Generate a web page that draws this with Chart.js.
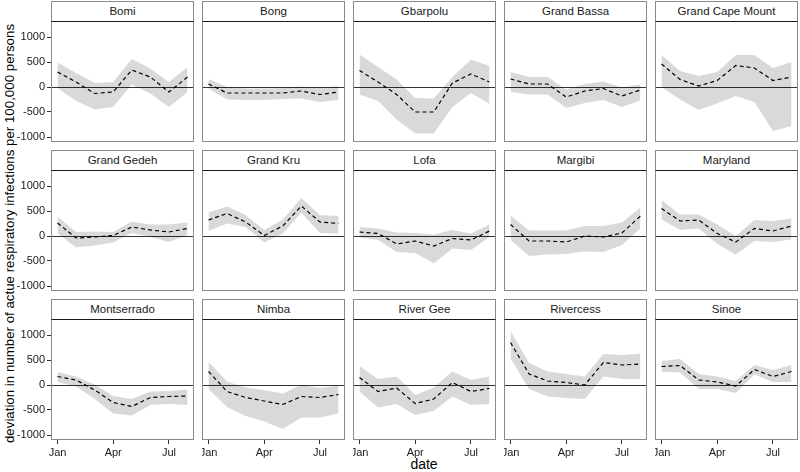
<!DOCTYPE html>
<html>
<head>
<script src="https://cdn.jsdelivr.net/npm/chart.js"></script>
<style>
  body { margin: 0; background: #fff; font-family: "Liberation Sans", Arial, sans-serif; }
  #wrap { position: relative; width: 800px; height: 472px; overflow: hidden; }
  #wrap canvas { position: absolute; }
  .strip {
    position: absolute; box-sizing: border-box; height: 21px; width: 143px;
    border: 1px solid #8a8a8a; border-bottom: 1px solid #1a1a1a; background: #fff;
    font-size: 11.5px; color: #1a1a1a; text-align: center; line-height: 19px;
  }
  .ytitle {
    position: absolute; left: 9px; top: 226px; width: 440px; margin-left: -220px;
    transform: rotate(-90deg); text-align: center; font-size: 13.3px; color: #000; white-space: nowrap;
  }
  .xtitle { position: absolute; left: 374px; width: 100px; top: 456px; text-align: center; font-size: 14px; color: #000; }
</style>
</head>
<body>
<div id="wrap">
  <div class="ytitle">deviation in number of actue respiratory infections per 100,000 persons</div>
  <div class="xtitle">date</div>
</div>
<script>
// facet names, in panel order
const counties = ['Bomi', 'Bong', 'Gbarpolu', 'Grand Bassa', 'Grand Cape Mount',
  'Grand Gedeh', 'Grand Kru', 'Lofa', 'Margibi', 'Maryland',
  'Montserrado', 'Nimba', 'River Gee', 'Rivercess', 'Sinoe'];

const monthLabels = ['Jan', 'Feb', 'Mar', 'Apr', 'May', 'Jun', 'Jul', 'Aug'];
const xTickIdx = [0, 3, 6];
const yTicks = [-1000, -500, 0, 500, 1000];

// dashed line: estimated deviation
const meanSeries = [
  [300, 100, -130, -100, 340, 200, -100, 200],
  [60, -120, -120, -120, -120, -80, -150, -100],
  [330, 100, -150, -500, -500, 80, 260, 100],
  [160, 60, 60, -200, -80, -30, -180, -60],
  [460, 150, 20, 130, 430, 380, 130, 200],
  [260, -40, -20, 10, 180, 120, 80, 150],
  [320, 450, 280, 10, 200, 600, 280, 250],
  [80, 50, -160, -100, -200, -50, -80, 100],
  [230, -100, -100, -120, 0, -20, 60, 400],
  [550, 300, 320, 50, -120, 150, 100, 200],
  [170, 100, -100, -350, -430, -250, -230, -220],
  [270, -130, -250, -320, -390, -230, -250, -190],
  [150, -130, -60, -370, -280, 50, -130, -70],
  [850, 220, 80, 50, 0, 450, 400, 420],
  [370, 390, 100, 60, -20, 310, 170, 270]
];

// grey band: lower bound
const lowerSeries = [
  [-20, -280, -450, -400, 50, -130, -400, -100],
  [-30, -250, -260, -260, -240, -230, -300, -260],
  [-150, -280, -650, -930, -930, -400, -120, -340],
  [-100, -150, -150, -420, -320, -260, -400, -270],
  [0, -250, -460, -330, -180, -300, -880, -780],
  [50, -230, -190, -130, 60, -20, -120, 20],
  [100, 250, 180, -130, 50, 470, 60, 50],
  [-30, -80, -320, -340, -550, -250, -280, -20],
  [-80, -400, -370, -360, -310, -320, -180, 150],
  [330, 120, 150, -160, -370, -100, -120, -70],
  [60, -30, -280, -570, -610, -400, -380, -400],
  [-80, -440, -620, -730, -880, -650, -650, -570],
  [-130, -450, -380, -600, -520, -230, -400, -380],
  [530, -80, -230, -260, -280, 170, 120, 120],
  [270, 250, -80, -80, -160, 210, 60, 60]
];

// grey band: upper bound
const upperSeries = [
  [490, 280, 80, 100, 560, 370, 100, 400],
  [160, 0, -30, -30, -20, 10, -20, 20],
  [650, 400, 150, -220, -230, 200, 550, 420],
  [300, 200, 200, -50, 60, 110, -10, 50],
  [640, 320, 220, 300, 640, 640, 380, 500],
  [390, 80, 90, 80, 290, 230, 230, 270],
  [470, 590, 420, 120, 330, 760, 420, 400],
  [180, 150, 70, 60, 30, 120, 50, 230],
  [410, 110, 110, 110, 200, 200, 270, 570],
  [720, 430, 430, 230, 0, 320, 300, 350],
  [260, 170, 10, -220, -280, -130, -120, -90],
  [460, 70, -50, -100, -170, 0, -60, -10],
  [380, 120, 170, -200, -50, 270, 100, 170],
  [1080, 440, 270, 220, 170, 620, 600, 630],
  [480, 520, 220, 170, 80, 400, 300, 400]
];

const colLeft = [51, 202, 353, 504, 655];
const stripTop = [1, 150, 299];
const plotTop = [21, 170, 319];
const panelW = 143, panelH = 121;
const yAxisW = 51, xAxisH = 22;
const tickFont = { family: '"Liberation Sans", Arial, sans-serif', size: 11 };

const frame = {
  id: 'frame',
  afterDraw(chart) {
    const a = chart.chartArea, g = chart.ctx;
    g.save();
    g.strokeStyle = '#8a8a8a';
    g.lineWidth = 1;
    g.strokeRect(a.left + 0.5, a.top + 0.5, a.right - a.left - 1, a.bottom - a.top - 1);
    g.restore();
  }
};

// no automatic padding from tick labels: the panel fills the canvas exactly
function noPad(s) {
  s.paddingTop = s.paddingBottom = s.paddingLeft = s.paddingRight = 0;
}

const wrap = document.getElementById('wrap');
const pts = arr => arr.map((v, i) => ({ x: i, y: v }));

counties.forEach((name, k) => {
  const row = Math.floor(k / 5), col = k % 5;
  const leftAxis = col === 0, bottomAxis = row === 2;

  const strip = document.createElement('div');
  strip.className = 'strip';
  strip.textContent = name;
  strip.style.left = colLeft[col] + 'px';
  strip.style.top = stripTop[row] + 'px';

  const cv = document.createElement('canvas');
  const w = panelW + (leftAxis ? yAxisW : 0);
  const h = panelH + (bottomAxis ? xAxisH : 0);
  cv.width = w; cv.height = h;
  cv.style.width = w + 'px'; cv.style.height = h + 'px';
  cv.style.left = (colLeft[col] - (leftAxis ? yAxisW : 0)) + 'px';
  cv.style.top = plotTop[row] + 'px';
  wrap.appendChild(cv);
  wrap.appendChild(strip);

  new Chart(cv, {
    type: 'line',
    data: {
      datasets: [{
        data: pts(upperSeries[k]),
        borderWidth: 0, pointRadius: 0, fill: false
      }, {
        data: pts(lowerSeries[k]),
        borderWidth: 0, pointRadius: 0, fill: '-1',
        backgroundColor: 'rgba(0,0,0,0.15)'
      }, {
        data: pts(meanSeries[k]),
        borderColor: '#000', borderWidth: 1.2, borderDash: [4, 3],
        pointRadius: 0, fill: false, tension: 0
      }]
    },
    options: {
      responsive: false,
      animation: false,
      layout: { padding: 0, autoPadding: false },
      plugins: { legend: { display: false }, tooltip: { enabled: false } },
      scales: {
        x: {
          type: 'linear', min: -0.35, max: 7.35,
          afterBuildTicks: s => { s.ticks = xTickIdx.map(v => ({ value: v })); },
          afterFit: s => { s.height = bottomAxis ? xAxisH : 0; noPad(s); },
          ticks: {
            display: bottomAxis, callback: v => monthLabels[v],
            font: tickFont, color: '#1a1a1a', padding: 2, maxRotation: 0, autoSkip: false
          },
          grid: { drawOnChartArea: false, drawTicks: bottomAxis, tickLength: 4, tickColor: '#333' },
          border: { display: false }
        },
        y: {
          min: -1100, max: 1320,
          afterBuildTicks: s => { s.ticks = yTicks.map(v => ({ value: v })); },
          afterFit: s => { s.width = leftAxis ? yAxisW : 0; noPad(s); },
          ticks: {
            display: leftAxis, callback: v => String(v),
            font: tickFont, color: '#1a1a1a', padding: 2
          },
          grid: {
            color: ctx => (ctx.tick && ctx.tick.value === 0) ? '#333' : 'rgba(0,0,0,0)',
            drawTicks: leftAxis, tickLength: 4, tickColor: '#333'
          },
          border: { display: false }
        }
      }
    },
    plugins: [frame]
  });
});
</script>
</body>
</html>
